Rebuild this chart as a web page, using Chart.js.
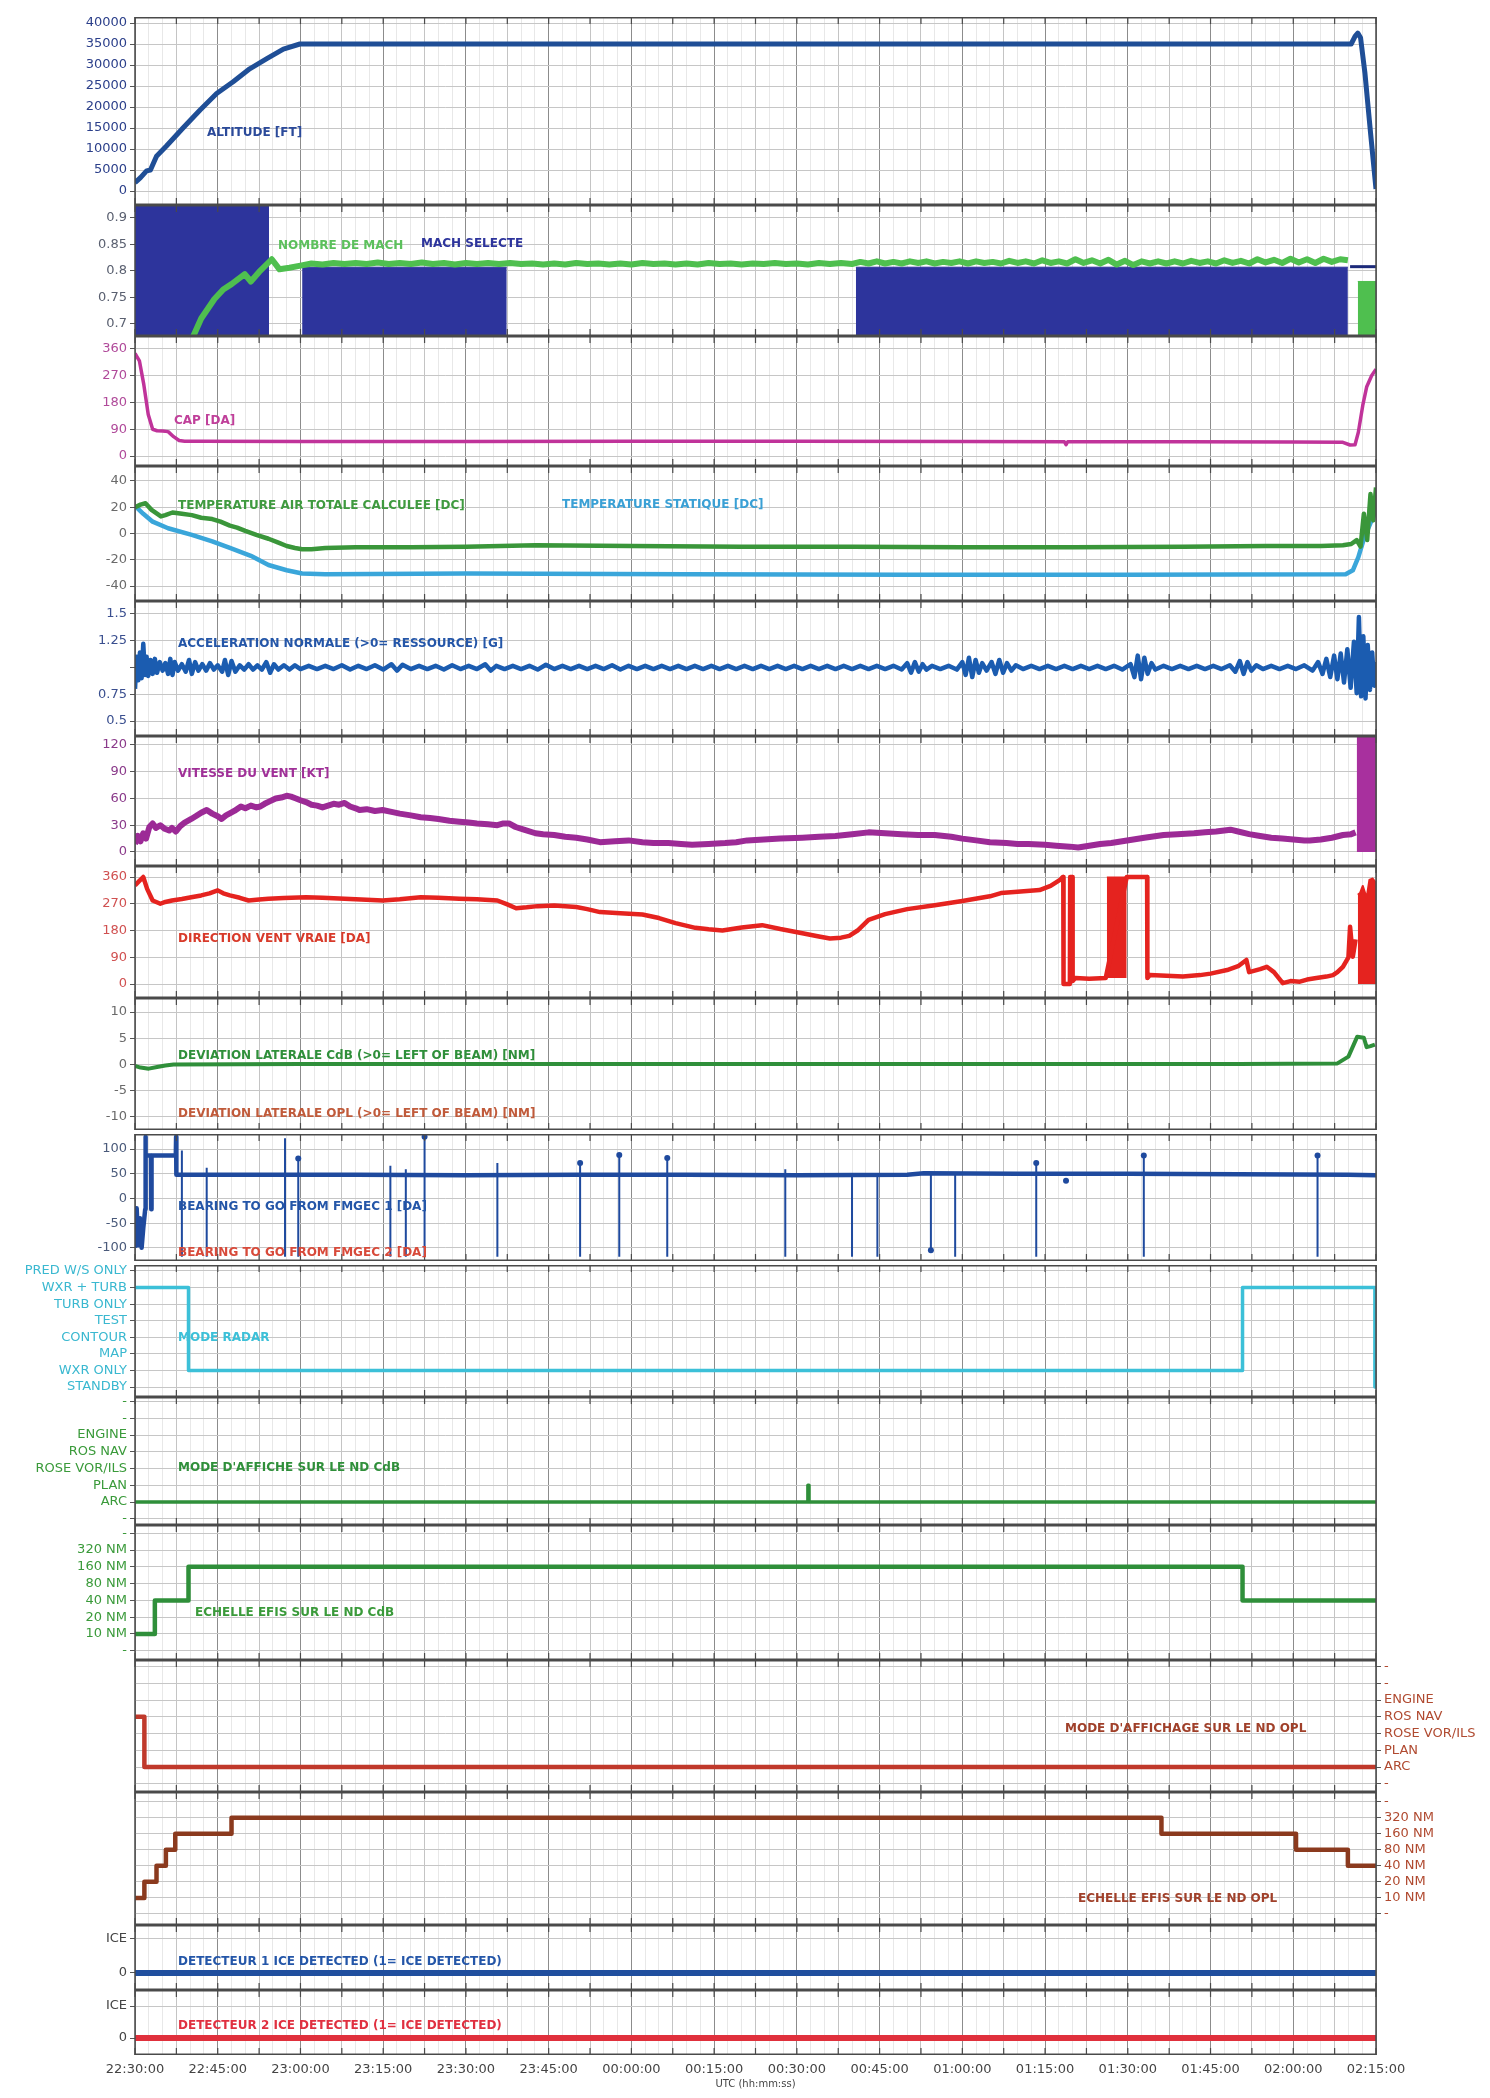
<!DOCTYPE html>
<html lang="fr">
<head>
  <meta charset="UTF-8">
  <title>Paramètres de vol</title>
  <script src="https://cdn.jsdelivr.net/npm/chart.js"></script>
  <style>
    html, body { margin: 0; padding: 0; background: #fff; }
    #wrap { position: relative; width: 1490px; height: 2098px; overflow: hidden; }
    #wrap canvas { position: absolute; left: 0; }
    .lbl { position: absolute; font: bold 12px "DejaVu Sans", sans-serif; white-space: nowrap; line-height: 14px; z-index: 5; }
  </style>
</head>
<body>
<div id="wrap"></div>
<script>
// ---- donnees (minutes depuis 22:30:00) ----
const timeLabels = ['22:30:00','22:45:00','23:00:00','23:15:00','23:30:00','23:45:00','00:00:00','00:15:00',
  '00:30:00','00:45:00','01:00:00','01:15:00','01:30:00','01:45:00','02:00:00','02:15:00'];

const altT = [0, 1, 2.1, 2.8, 3.9, 5.7, 8.7, 11.8, 14.8, 17.8, 20.8, 23.9, 26.9, 29.9, 100, 220.5, 221.2, 221.7, 222.2, 223, 224, 225];
const altV = [2000, 3200, 4800, 5000, 8300, 10700, 15000, 19300, 23200, 26000, 29100, 31500, 33800, 35000, 35000, 35000, 36800, 37600, 36500, 28000, 14000, 500];

const machT = [10.5, 12, 14.4, 16, 17.5, 19.9, 21, 22.5, 24.8, 26.2,
  28, 30, 32, 34, 36, 38, 40, 42, 44, 46,
  48, 50, 52, 54, 56, 58, 60, 62, 64, 66,
  68, 70, 72, 74, 76, 78, 80, 82, 84, 86,
  88, 90, 92, 94, 96, 98, 100, 102, 104, 106,
  108, 110, 112, 114, 116, 118, 120, 122, 124, 126,
  128, 130, 131.5, 133, 134.5, 136, 137.5, 139, 140.5, 142,
  143.5, 145, 146.5, 148, 149.5, 151, 152.5, 154, 155.5, 157,
  158.5, 160, 161.5, 163, 164.5, 166, 167.5, 169, 170.5, 172,
  173.5, 175, 176.5, 178, 179.5, 181, 182.5, 184, 185.5, 187,
  188.5, 190, 191.5, 193, 194.5, 196, 197.5, 199, 200.5, 202,
  203.5, 205, 206.5, 208, 209.5, 211, 212.5, 214, 215.5, 217,
  218.5, 219.9];
const machV = [0.675, 0.71, 0.747, 0.765, 0.775, 0.794, 0.78, 0.798, 0.822, 0.803,
  0.806, 0.81, 0.814, 0.812, 0.815, 0.813, 0.815, 0.813, 0.816, 0.813,
  0.815, 0.813, 0.816, 0.813, 0.815, 0.812, 0.815, 0.813, 0.815, 0.813,
  0.815, 0.813, 0.814, 0.812, 0.814, 0.812, 0.815, 0.813, 0.814, 0.812,
  0.814, 0.812, 0.815, 0.813, 0.814, 0.812, 0.814, 0.812, 0.815, 0.813,
  0.814, 0.812, 0.814, 0.813, 0.815, 0.813, 0.814, 0.812, 0.815, 0.813,
  0.815, 0.813, 0.817, 0.814, 0.818, 0.814, 0.817, 0.814, 0.818, 0.815,
  0.818, 0.814, 0.817, 0.815, 0.818, 0.814, 0.818, 0.815, 0.817, 0.814,
  0.819, 0.815, 0.818, 0.814, 0.82, 0.815, 0.818, 0.814, 0.822, 0.815,
  0.82, 0.814, 0.821, 0.812, 0.819, 0.811, 0.818, 0.814, 0.818, 0.814,
  0.818, 0.814, 0.819, 0.815, 0.818, 0.814, 0.82, 0.815, 0.819, 0.814,
  0.822, 0.816, 0.821, 0.815, 0.823, 0.816, 0.822, 0.815, 0.823, 0.817,
  0.822, 0.82];
const machEndT = [221.7, 225];
const machEndV = [0.78, 0.78];
const machSelT = [0, 24.3, 24.35, 30.3, 67.4, 67.45, 130.7, 219.9];
const machSelV = [0.93, 0.93, null, 0.807, 0.807, null, 0.807, 0.807];
const machSelTailT = [220.3, 225];
const machSelTailV = [0.808, 0.808];

const capT = [0, 0.8, 1.6, 2.4, 3.2, 4, 5, 6, 7, 8, 9, 12, 30, 60, 90, 120, 150, 168.5, 168.8, 169.1,
  190, 210, 219, 220.3, 221.2, 221.8, 222.6, 223.3, 224.2, 225];
const capV = [345, 320, 240, 140, 90, 85, 84, 82, 65, 52, 50, 50, 49, 49, 50, 50, 49, 48, 38, 48,
  48, 47, 46, 37, 38, 80, 170, 232, 270, 292];

const tatT = [0, 1, 1.9, 3, 4.7, 5.5, 6.8, 8.5, 10.3, 12, 14, 15.5, 17.2, 18.5, 20, 22, 24.2, 26, 27.5, 29,
  30.3, 32, 34.5, 40, 50, 60, 72.6, 90, 110, 130, 150, 170, 190, 205, 215, 219, 220.5, 221.5, 222.2, 222.8,
  223.4, 224, 224.5, 225];
const tatV = [20, 22, 23, 18, 13, 14, 16, 15, 14, 12, 11, 9, 6, 4.5, 2, -1, -4, -7, -9.5, -11,
  -12, -12, -11, -10.5, -10.5, -10, -9, -9.5, -10, -10, -10.5, -10.5, -10, -9.5, -9.5, -9, -8, -5, -10, 15,
  -5, 30, 10, 35];
const statT = [0, 1.5, 3.2, 6, 10.3, 14, 17.2, 21, 24.2, 27.5, 30.3, 34.5, 60, 100, 140, 180, 219.5, 220.8, 221.8, 222.8, 223.8, 225];
const statV = [21, 15, 9, 4, -1, -6, -11, -17, -24, -28, -30.5, -31, -30.5, -31, -31.5, -31.5, -31, -28, -18, -4, 6, 18];

const accT = [0, 0.3, 0.6, 0.9, 1.2, 1.5, 1.8, 2.1, 2.4, 2.8,
  3.2, 3.6, 4, 4.5, 5, 5.5, 6, 6.4, 6.8, 7.2,
  7.8, 8.5, 9.2, 9.8, 10.3, 10.9, 11.5, 12.2, 12.9, 13.6,
  14.3, 15, 15.8, 16.3, 16.9, 17.5, 18.2, 19, 19.8, 20.6,
  21.4, 22.2, 23, 23.8, 24.5, 25.2, 26, 27, 28, 29,
  30, 31.5, 33, 34.5, 36, 37.5, 39, 40.5, 42, 43.5,
  45, 46.5, 47.5, 48.5, 50, 51.5, 53, 54.5, 56, 57.5,
  59, 60.5, 62, 63.5, 64.5, 65.5, 67, 68.5, 70, 71.5,
  73, 74.5, 76, 77.5, 79, 80.5, 82, 83.5, 85, 86.5,
  88, 89.5, 91, 92.5, 94, 95.5, 97, 98.5, 100, 101.5,
  103, 104.5, 106, 107.5, 109, 110.5, 112, 113.5, 115, 116.5,
  118, 119.5, 121, 122.5, 124, 125.5, 127, 128.5, 130, 131.5,
  133, 134.5, 136, 137.5, 139, 140, 140.7, 141.4, 142.1, 142.8,
  143.5, 144.5, 146, 147.5, 149, 150, 150.6, 151.2, 151.8, 152.4,
  153, 153.6, 154.4, 155.3, 156, 156.7, 157.4, 158.1, 158.9, 159.7,
  161, 162.5, 164, 165.5, 167, 168.5, 170, 171.5, 173, 174.5,
  176, 177.5, 179, 180.5, 181.2, 181.8, 182.4, 183, 183.6, 184.3,
  185, 186.5, 188, 189.5, 191, 192.5, 194, 195.5, 197, 198.5,
  199.5, 200.3, 201, 201.7, 202.4, 203.3, 204.5, 206, 207.5, 209,
  210.5, 212, 213.5, 214.5, 215.3, 216, 216.7, 217.4, 218, 218.6,
  219.2, 219.8, 220.4, 221, 221.5, 221.9, 222.3, 222.7, 223.1, 223.5,
  223.9, 224.3, 224.7, 225];
const accV = [0.8, 1.1, 0.88, 1.14, 0.9, 1.22, 0.93, 1.1, 0.92, 1.07,
  0.94, 1.08, 0.95, 1.05, 0.97, 1.04, 0.94, 1.08, 0.93, 1.05,
  0.97, 1.03, 0.96, 1.07, 0.94, 1.05, 0.97, 1.03, 0.97, 1.04,
  0.98, 1.02, 0.96, 1.07, 0.93, 1.06, 0.96, 1.02, 0.98, 1.03,
  0.98, 1.02, 0.98, 1.05, 0.95, 1.03, 0.98, 1.02, 0.98, 1.02,
  0.985, 1.015, 0.985, 1.015, 0.985, 1.02, 0.98, 1.015, 0.985, 1.02,
  0.98, 1.03, 0.97, 1.025, 0.985, 1.015, 0.985, 1.015, 0.98, 1.02,
  0.985, 1.015, 0.985, 1.03, 0.97, 1.015, 0.985, 1.015, 0.985, 1.015,
  0.98, 1.025, 0.985, 1.015, 0.985, 1.015, 0.985, 1.015, 0.985, 1.02,
  0.98, 1.015, 0.985, 1.015, 0.985, 1.015, 0.985, 1.015, 0.985, 1.015,
  0.985, 1.015, 0.985, 1.015, 0.985, 1.015, 0.985, 1.015, 0.985, 1.015,
  0.985, 1.015, 0.985, 1.015, 0.985, 1.015, 0.985, 1.015, 0.985, 1.015,
  0.985, 1.015, 0.985, 1.015, 0.98, 1.04, 0.95, 1.05, 0.96, 1.03,
  0.98, 1.015, 0.985, 1.015, 0.98, 1.05, 0.93, 1.09, 0.91, 1.07,
  0.95, 1.04, 0.97, 1.05, 0.94, 1.07, 0.95, 1.04, 0.97, 1.02,
  0.985, 1.015, 0.985, 1.015, 0.985, 1.015, 0.985, 1.015, 0.985, 1.015,
  0.985, 1.015, 0.98, 1.03, 0.91, 1.11, 0.89, 1.09, 0.94, 1.04,
  0.98, 1.015, 0.985, 1.015, 0.985, 1.015, 0.985, 1.015, 0.985, 1.02,
  0.96, 1.06, 0.94, 1.05, 0.97, 1.02, 0.985, 1.015, 0.985, 1.015,
  0.985, 1.02, 0.97, 1.05, 0.94, 1.08, 0.91, 1.11, 0.89, 1.13,
  0.86, 1.17, 0.81, 1.24, 0.76, 1.47, 0.73, 1.29, 0.71, 1.21,
  0.79, 1.14, 0.83, 1.05];

const wsT = [0, 0.5, 1, 1.5, 2, 2.6, 3.2, 3.8, 4.6, 5.4,
  6.2, 6.7, 7.4, 8.2, 9, 10.2, 11, 12, 13, 14,
  15, 15.7, 16.5, 17.1, 18, 19.2, 20, 21, 22, 22.7,
  23.5, 24.5, 25.5, 26.5, 27.5, 28.3, 29.2, 30, 31, 32,
  33, 34, 35, 36, 37, 38, 39, 40, 40.7, 42,
  43.5, 44.9, 46.5, 48, 50, 51.8, 53.5, 55, 57, 58.8,
  60.5, 62, 64, 65.7, 66.8, 67.8, 69, 70.5, 72.6, 74,
  76, 78, 80, 82, 84.3, 87, 89.5, 92, 94, 96.7,
  99, 101, 104, 107, 109, 111, 114, 117, 121, 124,
  127, 130, 133, 136, 139, 142, 145, 148, 150, 152.5,
  155, 158, 160, 162, 165, 167, 169.5, 171, 173, 175,
  177, 179, 181, 183, 186.5, 189, 192, 194, 196, 198.6,
  200, 202, 204, 206, 208, 210, 212, 213, 215, 217,
  219, 220.5, 221.3];
const wsV = [9, 18, 12, 21, 15, 28, 32, 27, 30, 26,
  24, 27, 23, 29, 33, 37, 40, 44, 47, 43,
  40, 37, 41, 43, 46, 51, 49, 52, 50, 51,
  54, 57, 60, 61, 63, 62, 60, 58, 56, 53,
  52, 50, 52, 54, 53, 55, 51, 49, 47, 48,
  46, 47, 45, 43, 41, 39, 38, 37, 35, 34,
  33, 32, 31, 30, 32, 32, 28, 25, 21, 20,
  19, 17, 16, 14, 11, 12, 13, 11, 10, 10,
  9, 8, 9, 10, 11, 13, 14, 15, 16, 17,
  18, 20, 22, 21, 20, 19, 19, 17, 15, 13,
  11, 10, 9, 9, 8, 7, 6, 5, 7, 9,
  10, 12, 14, 16, 19, 20, 21, 22, 23, 25,
  23, 20, 18, 16, 15, 14, 13, 13, 14, 16,
  19, 20, 22];
const wsEndT = [221.5, 225];
const wsEndV = [132, 132];

const wdT = [0, 0.7, 1.5, 2.2, 3.2, 4.6, 5.5, 6.7, 8.5, 10.2,
  12, 13.5, 15, 16, 17.2, 19, 20.6, 22.5, 24.2, 27,
  31, 34, 38, 41, 44.9, 48, 51.8, 55, 58.8, 62,
  65.7, 67.5, 69.1, 71, 73, 76, 78, 80, 82, 84.3,
  88, 92, 95, 98, 101.6, 104, 106.5, 110, 113.7, 117,
  121, 124, 126, 128, 129.5, 131, 133, 136, 140, 145,
  150, 155, 157, 160, 164, 166, 167.7, 168.2, 168.3, 168.35,
  169.5, 169.55, 169.9, 170, 170.5, 173, 176, 179.8, 183.5, 183.55,
  184, 187, 190, 193.1, 195, 198, 200, 201.5, 202, 204,
  205.2, 206.5, 208.1, 209.5, 211.2, 212.5, 214.2, 216, 217.2, 218,
  219, 220, 220.3, 220.8, 221.3];
const wdV = [332, 345, 360, 320, 281, 270, 276, 281, 286, 292,
  298, 305, 315, 305, 298, 290, 281, 284, 287, 289,
  292, 290, 287, 284, 281, 285, 292, 290, 287, 285,
  281, 268, 255, 258, 262, 264, 262, 259, 252, 242,
  238, 234, 222, 205, 189, 184, 180, 190, 198, 185,
  171, 160, 153, 156, 162, 180, 216, 235, 252, 265,
  279, 295, 306, 310, 316, 330, 350, 360, 360, 0,
  0, 360, 360, 10, 20, 18, 20, 360, 360, 20,
  30, 28, 25, 30, 35, 47, 60, 81, 40, 50,
  58, 40, 3, 10, 8, 15, 20, 25, 30, 40,
  58, 90, 193, 92, 150];
const wdBlockT = [176.2, 179.8];
const wdBlockV = [360, 360];
const wdEndT = [221.7, 222.1, 222.6, 223.3, 223.8, 224.4, 225];
const wdEndV = [300, 306, 330, 290, 350, 355, 340];

const devT = [0, 1, 2.5, 4, 5.5, 7, 30, 100, 200, 218, 220, 221.6, 222.8, 223.3, 224, 224.8];
const devV = [-0.3, -0.6, -0.8, -0.5, -0.2, 0, 0.1, 0.1, 0.1, 0.2, 1.5, 5.3, 5.1, 3.3, 3.5, 3.8];

const brT = [0, 0.3, 0.6, 0.9, 1.2, 1.5, 1.85, 1.9, 1.95, 2.9, 2.95, 3.0, 7.4, 7.45, 7.5,
  20, 40, 60, 80, 100, 120, 140, 143, 160, 180, 200, 220, 225];
const brV = [-100, -20, -95, -40, -100, -60, -22, 125, 87, 87, -22, 87, 87, 125, 48,
  48, 48, 47, 48, 48, 47, 48, 51, 50, 50, 49, 48, 47];
const spikeT = [8.5, 13, 27.2, 29.6, 46.3, 49.1, 52.5, 65.7, 80.7, 87.8, 96.5, 117.9, 130, 134.6, 144.3, 148.7, 163.4, 182.9, 214.4];
const spikeTop = [97, 62, 122, 81, 66, 59, 125, 72, 72, 88, 82, 59, 48, 48, 48, 48, 72, 87, 87];
const spikeBottom = [-118, -118, -118, -118, -118, -118, -118, -118, -118, -118, -118, -118, -118, -118, -105, -118, -118, -118, -118];
const dotT = [29.6, 52.5, 80.7, 87.8, 96.5, 144.3, 163.4, 168.8, 182.9, 214.4];
const dotV = [81, 125, 72, 88, 82, -105, 72, 36, 87, 87];

const radarNames = ['STANDBY', 'WXR ONLY', 'MAP', 'CONTOUR', 'TEST', 'TURB ONLY', 'WXR + TURB', 'PRED W/S ONLY'];
const radT = [0, 9.7, 200.8, 224.8, 225];
const radV = [6, 1, 6, 0, 0];

const modeNames = ['-', 'ARC', 'PLAN', 'ROSE VOR/ILS', 'ROS NAV', 'ENGINE', '-', '-'];
const modeCdbT = [0, 122, 122.2, 225];
const modeCdbV = [0, 1, 0, 0];
const modeOplT = [0, 1.7, 225];
const modeOplV = [3, 0, 0];

const scaleNames = ['-', '10 NM', '20 NM', '40 NM', '80 NM', '160 NM', '320 NM', '-'];
const echCdbT = [0, 3.6, 9.7, 200.8, 225];
const echCdbV = [0, 2, 4, 2, 2];
const echOplT = [0, 1.7, 3.9, 5.6, 7.3, 17.5, 186.1, 210.5, 219.9, 225];
const echOplV = [0, 1, 2, 3, 4, 5, 4, 3, 2, 2];

const iceNames = ['0', 'ICE'];
const iceT = [0, 225];
const ice1V = [0, 0];
const ice2V = [0, 0];

// ---- mise en page ----
const W = 1490, PLOT_L = 135, PLOT_R = 1376;
const wrap = document.getElementById('wrap');
const gridTimes = [];
for (let m = 0; m <= 225; m += 2.5) gridTimes.push(m);

function pts(t, v) { return t.map((x, i) => ({ x: x, y: v[i] })); }
function line(t, v, color, width, extra) {
  return Object.assign({ data: pts(t, v), borderColor: color, backgroundColor: color, borderWidth: width,
    pointRadius: 0, fill: false, tension: 0, borderJoinStyle: 'round' }, extra || {});
}
function range(a, b) { const r = []; for (let i = a; i <= b; i++) r.push(i); return r; }

// barres fines du bearing
const spikeData = [];
spikeT.forEach((t, i) => {
  spikeData.push({ x: t, y: spikeTop[i] }, { x: t, y: spikeBottom[i] }, { x: t + 0.01, y: null });
});

const framePlugin = {
  id: 'frame',
  afterDatasetsDraw(chart) {
    const { ctx, chartArea: a, scales: { x } } = chart;
    ctx.save();
    ctx.strokeStyle = '#4a4a4a';
    ctx.lineWidth = 1.5;
    ctx.strokeRect(a.left, a.top + 0.75, a.right - a.left, a.bottom - a.top - 1.5);
    ctx.lineWidth = 1.2;
    for (let m = 0; m <= 225; m += 7.5) {
      const px = x.getPixelForValue(m);
      ctx.beginPath();
      ctx.moveTo(px, a.top); ctx.lineTo(px, a.top + 7);
      ctx.moveTo(px, a.bottom - 7); ctx.lineTo(px, a.bottom);
      ctx.stroke();
    }
    ctx.restore();
  }
};

const panels = [
  { top: 17, bottom: 205, min: -3333, max: 41430, ticks: [0, 5000, 10000, 15000, 20000, 25000, 30000, 35000, 40000], color: '#2b3f8a',
    datasets: [line(altT, altV, '#1f4e96', 5)] },
  { top: 205, bottom: 336, min: 0.677, max: 0.9245, ticks: [0.7, 0.75, 0.8, 0.85, 0.9], color: '#5a6070',
    datasets: [
      line(machT, machV, '#4fbf4f', 6),
      line(machEndT, machEndV, '#4fbf4f', 1, { fill: 'start' }),
      line(machSelTailT, machSelTailV, '#1c2a7a', 3),
      line(machSelT, machSelV, '#2d349c', 1, { fill: 'start', spanGaps: false })
    ] },
  { top: 336, bottom: 466, min: -33.6, max: 403.7, ticks: [0, 90, 180, 270, 360], color: '#b04a9a',
    datasets: [line(capT, capV, '#c0339a', 3.5)] },
  { top: 466, bottom: 601, min: -51.4, max: 51.4, ticks: [-40, -20, 0, 20, 40], color: '#6a6a6a',
    datasets: [line(tatT, tatV, '#3a963a', 4.5), line(statT, statV, '#3aa6da', 4.5)] },
  { top: 601, bottom: 736, min: 0.36, max: 1.62, ticks: [0.5, 0.75, 1, 1.25, 1.5], labels: ['0.5', '0.75', '', '1.25', '1.5'], color: '#3a4f8f',
    datasets: [line(accT, accV, '#1b5cb0', 4.5)] },
  { top: 736, bottom: 866, min: -15.7, max: 130, ticks: [0, 30, 60, 90, 120], color: '#8a3a8a',
    datasets: [line(wsT, wsV, '#9c2a96', 6), line(wsEndT, wsEndV, '#a8309e', 1, { fill: { value: 0 } })] },
  { top: 866, bottom: 998, min: -47, max: 397, ticks: [0, 90, 180, 270, 360], color: '#d05050',
    datasets: [
      line(wdT, wdV, '#e5231f', 4.5),
      line(wdBlockT, wdBlockV, '#e5231f', 1, { fill: { value: 20 } }),
      line(wdEndT, wdEndV, '#e5231f', 2, { fill: { value: 0 } })
    ] },
  { top: 998, bottom: 1130, min: -12.5, max: 12.67, ticks: [-10, -5, 0, 5, 10], color: '#6a6a6a',
    datasets: [line(devT, devV, '#2f8f3a', 4)] },
  { top: 1130, bottom: 1265, min: -126.7, max: 130.5, ticks: [-100, -50, 0, 50, 100], color: '#4a5a7a',
    datasets: [
      line(brT, brV, '#1f4a9e', 4.5),
      { data: spikeData, borderColor: '#1f4a9e', borderWidth: 2, pointRadius: 0, fill: false, spanGaps: false },
      { data: pts(dotT, dotV), showLine: false, pointRadius: 3, pointBackgroundColor: '#1f4a9e', pointBorderWidth: 0 }
    ] },
  { top: 1265, bottom: 1397, min: -0.6, max: 7.36, ticks: range(0, 7), labels: radarNames, color: '#3ab8d0',
    datasets: [line(radT, radV, '#3cc0d8', 3.5, { stepped: true })] },
  { top: 1397, bottom: 1525, min: -1.37, max: 6.27, ticks: range(-1, 6), labels: modeNames, color: '#3a9a3a',
    datasets: [line(modeCdbT, modeCdbV, '#2f8f3a', 3.5, { stepped: true })] },
  { top: 1525, bottom: 1660, min: -1.55, max: 6.49, ticks: range(-1, 6), labels: scaleNames, color: '#3a9a3a',
    datasets: [line(echCdbT, echCdbV, '#2f8f3a', 4.5, { stepped: true })] },
  { top: 1660, bottom: 1792, min: -1.49, max: 6.39, ticks: range(-1, 6), labels: modeNames, color: '#b04a30', side: 'right',
    datasets: [line(modeOplT, modeOplV, '#c0392b', 4.5, { stepped: true })] },
  { top: 1792, bottom: 1925, min: -1.69, max: 6.6, ticks: range(-1, 6), labels: scaleNames, color: '#b04a30', side: 'right',
    datasets: [line(echOplT, echOplV, '#8b3a1e', 4.5, { stepped: true })] },
  { top: 1925, bottom: 1990, min: -0.5, max: 1.41, ticks: [0, 1], labels: iceNames, color: '#444',
    datasets: [line(iceT, ice1V, '#1f4e9e', 6)] },
  { top: 1990, bottom: 2055, min: -0.53, max: 1.5, ticks: [0, 1], labels: iceNames, color: '#444', xLabels: true,
    datasets: [line(iceT, ice2V, '#e0303c', 6)] }
];

function xGridColor(c) {
  const v = c.tick.value;
  if (Math.abs(v / 15 - Math.round(v / 15)) < 1e-6) return '#8c8c8c';
  if (Math.abs(v / 7.5 - Math.round(v / 7.5)) < 1e-6) return '#c4c4c4';
  return '#e8e8e8';
}

function makePanel(p) {
  const canvas = document.createElement('canvas');
  const h = p.bottom - p.top + (p.xLabels ? 43 : 0);
  canvas.width = W;
  canvas.height = h;
  canvas.style.top = p.top + 'px';
  wrap.appendChild(canvas);
  const right = p.side === 'right';

  new Chart(canvas, {
    type: 'line',
    data: { datasets: p.datasets },
    options: {
      responsive: false,
      animation: false,
      devicePixelRatio: 1,
      layout: { padding: { left: right ? PLOT_L : 0, right: right ? 0 : W - PLOT_R, top: 0, bottom: 0 } },
      plugins: { legend: { display: false }, tooltip: { enabled: false } },
      scales: {
        x: {
          type: 'linear', min: 0, max: 225, bounds: 'data',
          afterBuildTicks: s => { s.ticks = gridTimes.map(v => ({ value: v })); },
          afterFit: s => { s.height = p.xLabels ? 43 : 0; s.paddingLeft = 0; s.paddingRight = 0; },
          grid: { color: xGridColor, drawTicks: false },
          border: { display: false },
          ticks: {
            display: !!p.xLabels, autoSkip: false, maxRotation: 0, padding: 7, color: '#444',
            font: { family: 'DejaVu Sans', size: 13 },
            callback: v => (Math.abs(v / 15 - Math.round(v / 15)) < 1e-6 ? timeLabels[Math.round(v / 15)] : '')
          },
          title: { display: !!p.xLabels, text: 'UTC (hh:mm:ss)', color: '#444',
            font: { family: 'DejaVu Sans', size: 10 }, padding: { top: 0, bottom: 8 } }
        },
        y: {
          position: right ? 'right' : 'left', min: p.min, max: p.max, bounds: 'data',
          afterBuildTicks: s => { s.ticks = p.ticks.map(v => ({ value: v })); },
          afterFit: s => { s.width = right ? W - PLOT_R : PLOT_L; s.paddingTop = 0; s.paddingBottom = 0; },
          grid: { color: '#c6c6c6', tickLength: 5, tickColor: '#555' },
          border: { display: false },
          ticks: {
            autoSkip: false, padding: 3, color: p.color,
            font: { family: 'DejaVu Sans', size: 13 },
            callback: (v, i) => (p.labels ? p.labels[i] : String(v))
          }
        }
      }
    },
    plugins: [framePlugin]
  });
}

panels.forEach(makePanel);

// titres des courbes
const texts = [
  ['ALTITUDE [FT]', 207, 132, '#2b4a9a'],
  ['NOMBRE DE MACH', 278, 245, '#5cc05c'],
  ['MACH SELECTE', 421, 243, '#2d349c'],
  ['CAP [DA]', 174, 420, '#c0409a'],
  ['TEMPERATURE AIR TOTALE CALCULEE [DC]', 178, 505, '#3f9a3f'],
  ['TEMPERATURE STATIQUE [DC]', 562, 504, '#3aa0d5'],
  ['ACCELERATION NORMALE (>0= RESSOURCE) [G]', 178, 643, '#2456a8'],
  ['VITESSE DU VENT [KT]', 178, 773, '#a03098'],
  ['DIRECTION VENT VRAIE [DA]', 178, 938, '#d83a2a'],
  ['DEVIATION LATERALE CdB (>0= LEFT OF BEAM) [NM]', 178, 1055, '#2f8f3a'],
  ['DEVIATION LATERALE OPL (>0= LEFT OF BEAM) [NM]', 178, 1113, '#c05a3a'],
  ['BEARING TO GO FROM FMGEC 1 [DA]', 178, 1206, '#2456a8'],
  ['BEARING TO GO FROM FMGEC 2 [DA]', 178, 1252, '#d84a3a'],
  ['MODE RADAR', 178, 1337, '#3cc0d8'],
  ["MODE D'AFFICHE SUR LE ND CdB", 178, 1467, '#2f8f3a'],
  ['ECHELLE EFIS SUR LE ND CdB', 195, 1612, '#3a9a3a'],
  ["MODE D'AFFICHAGE SUR LE ND OPL", 1065, 1728, '#a0402a'],
  ['ECHELLE EFIS SUR LE ND OPL', 1078, 1898, '#a0402a'],
  ['DETECTEUR 1 ICE DETECTED (1= ICE DETECTED)', 178, 1961, '#2456a8'],
  ['DETECTEUR 2 ICE DETECTED (1= ICE DETECTED)', 178, 2025, '#e03040']
];
texts.forEach(([txt, x, y, c]) => {
  const d = document.createElement('div');
  d.className = 'lbl';
  d.textContent = txt;
  d.style.left = x + 'px';
  d.style.top = (y - 7) + 'px';
  d.style.color = c;
  wrap.appendChild(d);
});
</script>
</body>
</html>
